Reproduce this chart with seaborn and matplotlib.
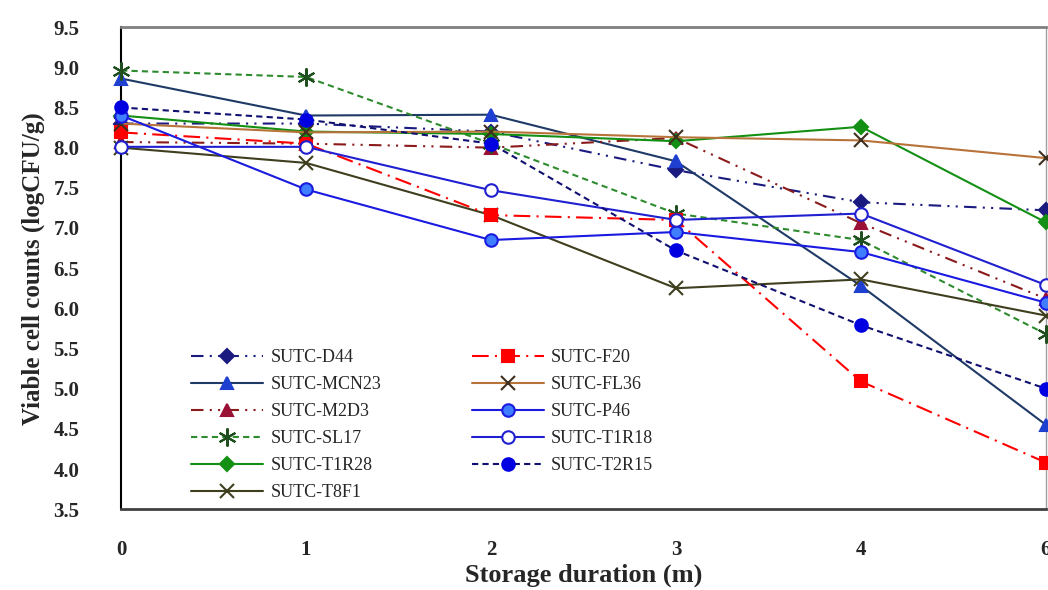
import numpy as np
import pandas as pd
import seaborn as sns
import matplotlib.pyplot as plt

# storage months (categorical, evenly spaced on the axis)
months = ['0', '1', '2', '3', '4', '6']

# viable cell counts (logCFU/g)
d44 = [8.30, 8.30, 8.20, 7.72, 7.32, 7.22]
mcn23 = [8.86, 8.40, 8.41, 7.83, 6.28, 4.55]
m2d3 = [8.07, 8.05, 8.00, 8.12, 7.06, 6.12]
sl17 = [8.96, 8.88, 8.05, 7.18, 6.85, 5.68]
t1r28 = [8.40, 8.20, 8.17, 8.08, 8.26, 7.07]
t8f1 = [8.00, 7.81, 7.16, 6.25, 6.36, 5.91]
f20 = [8.19, 8.05, 7.16, 7.10, 5.09, 4.08]
fl36 = [8.30, 8.19, 8.20, 8.13, 8.09, 7.87]
p46 = [8.40, 7.48, 6.85, 6.95, 6.70, 6.07]
t1r18 = [8.01, 8.01, 7.47, 7.10, 7.18, 6.29]
t2r15 = [8.50, 8.35, 8.05, 6.72, 5.79, 5.00]

series = [
    ('SUTC-D44', d44),
    ('SUTC-MCN23', mcn23),
    ('SUTC-M2D3', m2d3),
    ('SUTC-SL17', sl17),
    ('SUTC-T1R28', t1r28),
    ('SUTC-T8F1', t8f1),
    ('SUTC-F20', f20),
    ('SUTC-FL36', fl36),
    ('SUTC-P46', p46),
    ('SUTC-T1R18', t1r18),
    ('SUTC-T2R15', t2r15),
]

# line colour, line style, marker, face colour, edge colour, marker size
styles = {
    'SUTC-D44': ('#1a1a80', (0, (6, 3, 1, 3, 1, 3)), 'D', '#1a1a80', '#1a1a80', 7),
    'SUTC-MCN23': ('#1f3a66', '-', '^', '#1f3fd0', '#1f3fd0', 8),
    'SUTC-M2D3': ('#8b1a1a', (0, (6, 3, 1, 3, 1, 3)), '^', '#9b1035', '#9b1035', 8),
    'SUTC-SL17': ('#2e8b2e', (0, (3, 2)), (6, 2, 0), '#1f4f1f', '#1f4f1f', 13),
    'SUTC-T1R28': ('#139013', '-', 'D', '#139013', '#139013', 7),
    'SUTC-T8F1': ('#3f3f1f', '-', 'x', '#3f3f1f', '#3f3f1f', 10),
    'SUTC-F20': ('#ff0000', (0, (8, 3, 1, 3)), 's', '#ff0000', '#ff0000', 9),
    'SUTC-FL36': ('#b8733a', '-', 'x', '#3f2f1f', '#3f2f1f', 10),
    'SUTC-P46': ('#1a1ae0', '-', 'o', '#3f7fff', '#1a1ae0', 9),
    'SUTC-T1R18': ('#2020d0', '-', 'o', 'white', '#2020d0', 9),
    'SUTC-T2R15': ('#101070', (0, (3, 2)), 'o', '#0000e0', '#0000e0', 9),
}

sns.set_style('white')
plt.rcParams['font.family'] = ['Liberation Serif', 'DejaVu Serif']

fig = plt.figure(figsize=(10.48, 5.9), dpi=100)
ax = fig.add_axes([0.1155, 0.137, 0.8825, 0.817])

xpos = np.arange(len(months))
for name, vals in series:
    col, ls, mk, fc, ec, ms = styles[name]
    df = pd.DataFrame({'month': xpos, 'count': vals})
    sns.lineplot(data=df, x='month', y='count', ax=ax, color=col, linestyle=ls,
                 linewidth=1.5, marker=mk, markersize=ms, markerfacecolor=fc,
                 markeredgecolor=ec, markeredgewidth=1.5, label=name,
                 clip_on=False, zorder=3)

ax.set_xlim(0, 5)
ax.set_ylim(3.5, 9.5)
ax.set_xticks(xpos)
ax.set_xticklabels(months)
yt = np.arange(3.5, 9.51, 0.5)
ax.set_yticks(yt)
ax.set_yticklabels(['%.1f' % v for v in yt])
ax.tick_params(axis='both', direction='out', length=10, width=1, color='black',
               labelsize=15)
ax.tick_params(axis='x', pad=12)
ax.tick_params(axis='y', pad=20)
for lab in ax.get_xticklabels() + ax.get_yticklabels():
    lab.set_fontweight('bold')

ax.set_xlabel('Storage duration (m)', fontsize=19, fontweight='bold', labelpad=3)
ax.set_ylabel('Viable cell counts (logCFU/g)', fontsize=18, fontweight='bold', labelpad=6)

ax.spines['left'].set_color('black')
ax.spines['left'].set_linewidth(1.5)
ax.spines['bottom'].set_color('#404040')
ax.spines['bottom'].set_linewidth(2)
ax.spines['top'].set_color('#808080')
ax.spines['top'].set_linewidth(2)
ax.spines['right'].set_color('#a0a0a0')
ax.spines['right'].set_linewidth(1)

ax.legend(ncol=2, frameon=False, loc='upper left', bbox_to_anchor=(0.058, 0.365),
          prop={'family': 'Liberation Serif', 'size': 13}, handlelength=4.0,
          handletextpad=0.4, columnspacing=5.0, labelspacing=0.55)

plt.savefig('out.png', dpi=100)
